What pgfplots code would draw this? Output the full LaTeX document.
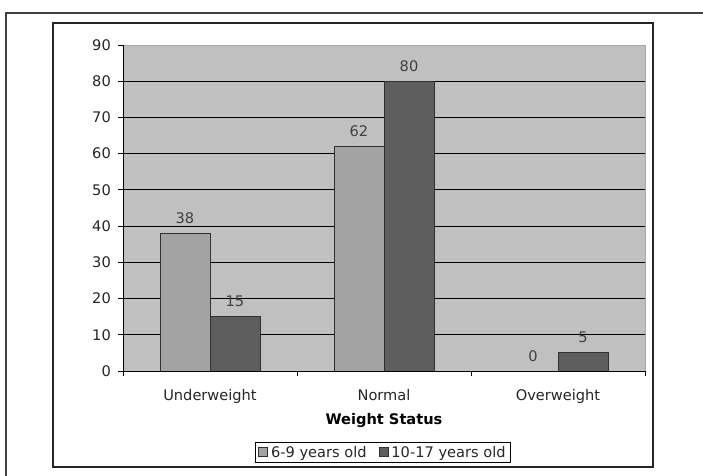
\documentclass[border=0pt]{standalone}
\usepackage{pgfplots}
\pgfplotsset{compat=1.18}
\usepackage{fontspec}
\setmainfont{DejaVu Sans}
\definecolor{plotbg}{HTML}{C0C0C0}
\definecolor{barA}{HTML}{A3A3A3}
\definecolor{barB}{HTML}{5E5E5E}
\definecolor{barline}{HTML}{303030}
\begin{document}
\fontsize{14.6bp}{17bp}\selectfont
\begin{tikzpicture}
\useasboundingbox (0,0) rectangle (703bp,476bp);
\fill[white] (0,0) rectangle (703bp,476bp);
\draw[line width=1.6bp, black!75] (6bp,-2bp) -- (6bp,463bp) -- (705bp,463bp);
\draw[line width=1.2bp, black!85] (53bp,9bp) rectangle (653bp,453bp);
\begin{axis}[
  at={(123bp,105bp)}, anchor=south west,
  scale only axis, width=522bp, height=326bp,
  font=\fontsize{14.6bp}{17bp}\selectfont,
  /pgf/number format/assume math mode=true,
  ybar=0pt, bar width=50bp,
  xmin=-0.5, xmax=2.5, ymin=0, ymax=90,
  axis background/.style={fill=plotbg, draw=black!35},
  axis x line*=bottom, axis y line*=left,
  axis line style={-, black, line width=0.9bp},
  tick align=outside,
  major tick length=5bp,
  ytick={10,20,...,80},
  extra y ticks={0,90},
  extra y tick style={grid=none},
  ymajorgrids, grid style={black, line width=0.9bp},
  y tick style={black, line width=0.9bp},
  yticklabel style={anchor=east, inner sep=0pt, xshift=-7bp, text=black!85},
  xtick={0,1,2},
  xticklabels={Underweight,Normal,Overweight},
  x tick style={draw=none},
  xticklabel style={anchor=base, inner sep=0pt, yshift=-24bp, text=black!85},
  extra x ticks={-0.5,0.5,1.5,2.5},
  extra x tick labels={},
  extra x tick style={x tick style={draw=black, line width=0.9bp}, grid=none},
  xlabel={\bfseries Weight Status},
  xlabel style={at={(axis description cs:0.5,-0.1656)}, anchor=base, inner sep=0pt},
  nodes near coords,
  nodes near coords style={font=\fontsize{14.6bp}{17bp}\selectfont, anchor=base, inner sep=0pt, yshift=10bp, text=black!75},
  legend columns=2,
  legend style={at={(0.498,-0.218)}, anchor=north, draw=black, line width=0.8bp,
    inner xsep=3bp, inner ysep=1.5bp, font=\fontsize{14.6bp}{17bp}\selectfont,
    /tikz/every odd column/.append style={column sep=1bp},
    /tikz/every even column/.append style={column sep=10bp},
    nodes={text=black!85}},
  legend image code/.code={\draw[#1, line width=0.8bp] (0bp,-4bp) rectangle (9bp,5bp);},
]
\addplot[fill=barA, draw=barline, line width=0.8bp] coordinates {(0,38) (1,62) (2,0)};
\addplot[fill=barB, draw=barline, line width=0.8bp] coordinates {(0,15) (1,80) (2,5)};
\legend{6-9 years old, 10-17 years old}
\end{axis}
\end{tikzpicture}
\end{document}
